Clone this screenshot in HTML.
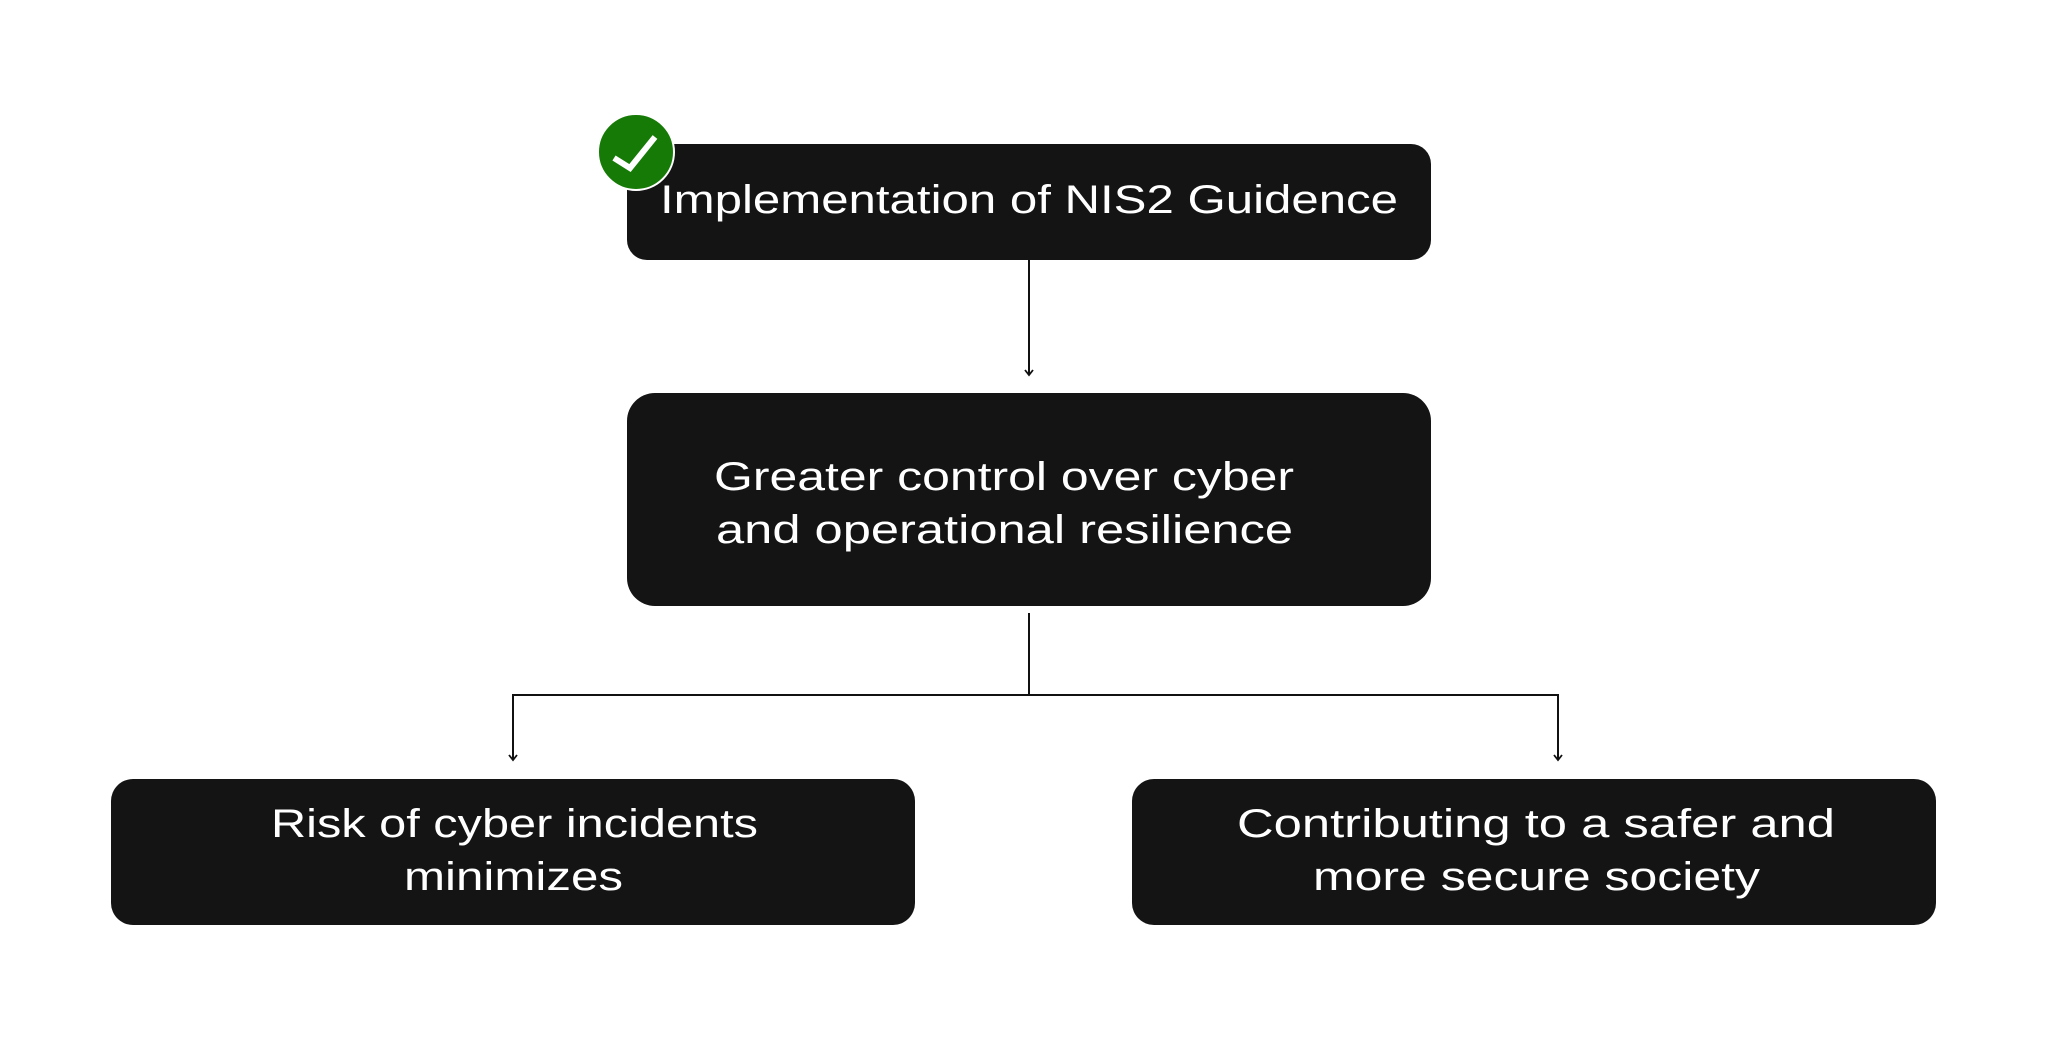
<!DOCTYPE html>
<html><head><meta charset="utf-8"><style>
html,body{margin:0;padding:0;background:#fff;width:2048px;height:1039px;overflow:hidden}
text{font-family:"Liberation Sans",sans-serif;fill:#fff;font-size:40px}
</style></head><body>
<svg width="2048" height="1039" viewBox="0 0 2048 1039" xmlns="http://www.w3.org/2000/svg">
<defs><marker id="a" markerWidth="12" markerHeight="12" refX="9" refY="5" orient="auto" markerUnits="userSpaceOnUse"><path d="M4,1 L9,5 L4,9" fill="none" stroke="#111" stroke-width="1.8"/></marker></defs>
<g stroke="#111" stroke-width="2" fill="none">
<line x1="1029" y1="260" x2="1029" y2="375" marker-end="url(#a)"/>
<line x1="1029" y1="613" x2="1029" y2="695"/>
<line x1="512" y1="695" x2="1559" y2="695"/>
<line x1="513" y1="695" x2="513" y2="760" marker-end="url(#a)"/>
<line x1="1558" y1="695" x2="1558" y2="760" marker-end="url(#a)"/>
</g>
<rect x="627" y="144" width="804" height="116" rx="20" fill="#141414"/>
<rect x="627" y="393" width="804" height="213" rx="28" fill="#141414"/>
<rect x="111" y="779" width="804" height="146" rx="22" fill="#141414"/>
<rect x="1132" y="779" width="804" height="146" rx="22" fill="#141414"/>
<circle cx="636" cy="152" r="38" fill="#167a06" stroke="#fff" stroke-width="2"/>
<path d="M614,158 L630,168 L655,137" fill="none" stroke="#fff" stroke-width="6"/>
<text x="660" y="213" textLength="738" lengthAdjust="spacingAndGlyphs">Implementation of NIS2 Guidence</text>
<text x="714" y="490" textLength="580" lengthAdjust="spacingAndGlyphs">Greater control over cyber</text>
<text x="716" y="543" textLength="577" lengthAdjust="spacingAndGlyphs">and operational resilience</text>
<text x="271" y="837" textLength="487" lengthAdjust="spacingAndGlyphs">Risk of cyber incidents</text>
<text x="404" y="890" textLength="219" lengthAdjust="spacingAndGlyphs">minimizes</text>
<text x="1237" y="837" textLength="598" lengthAdjust="spacingAndGlyphs">Contributing to a safer and</text>
<text x="1313" y="890" textLength="447" lengthAdjust="spacingAndGlyphs">more secure society</text>
</svg>
</body></html>
